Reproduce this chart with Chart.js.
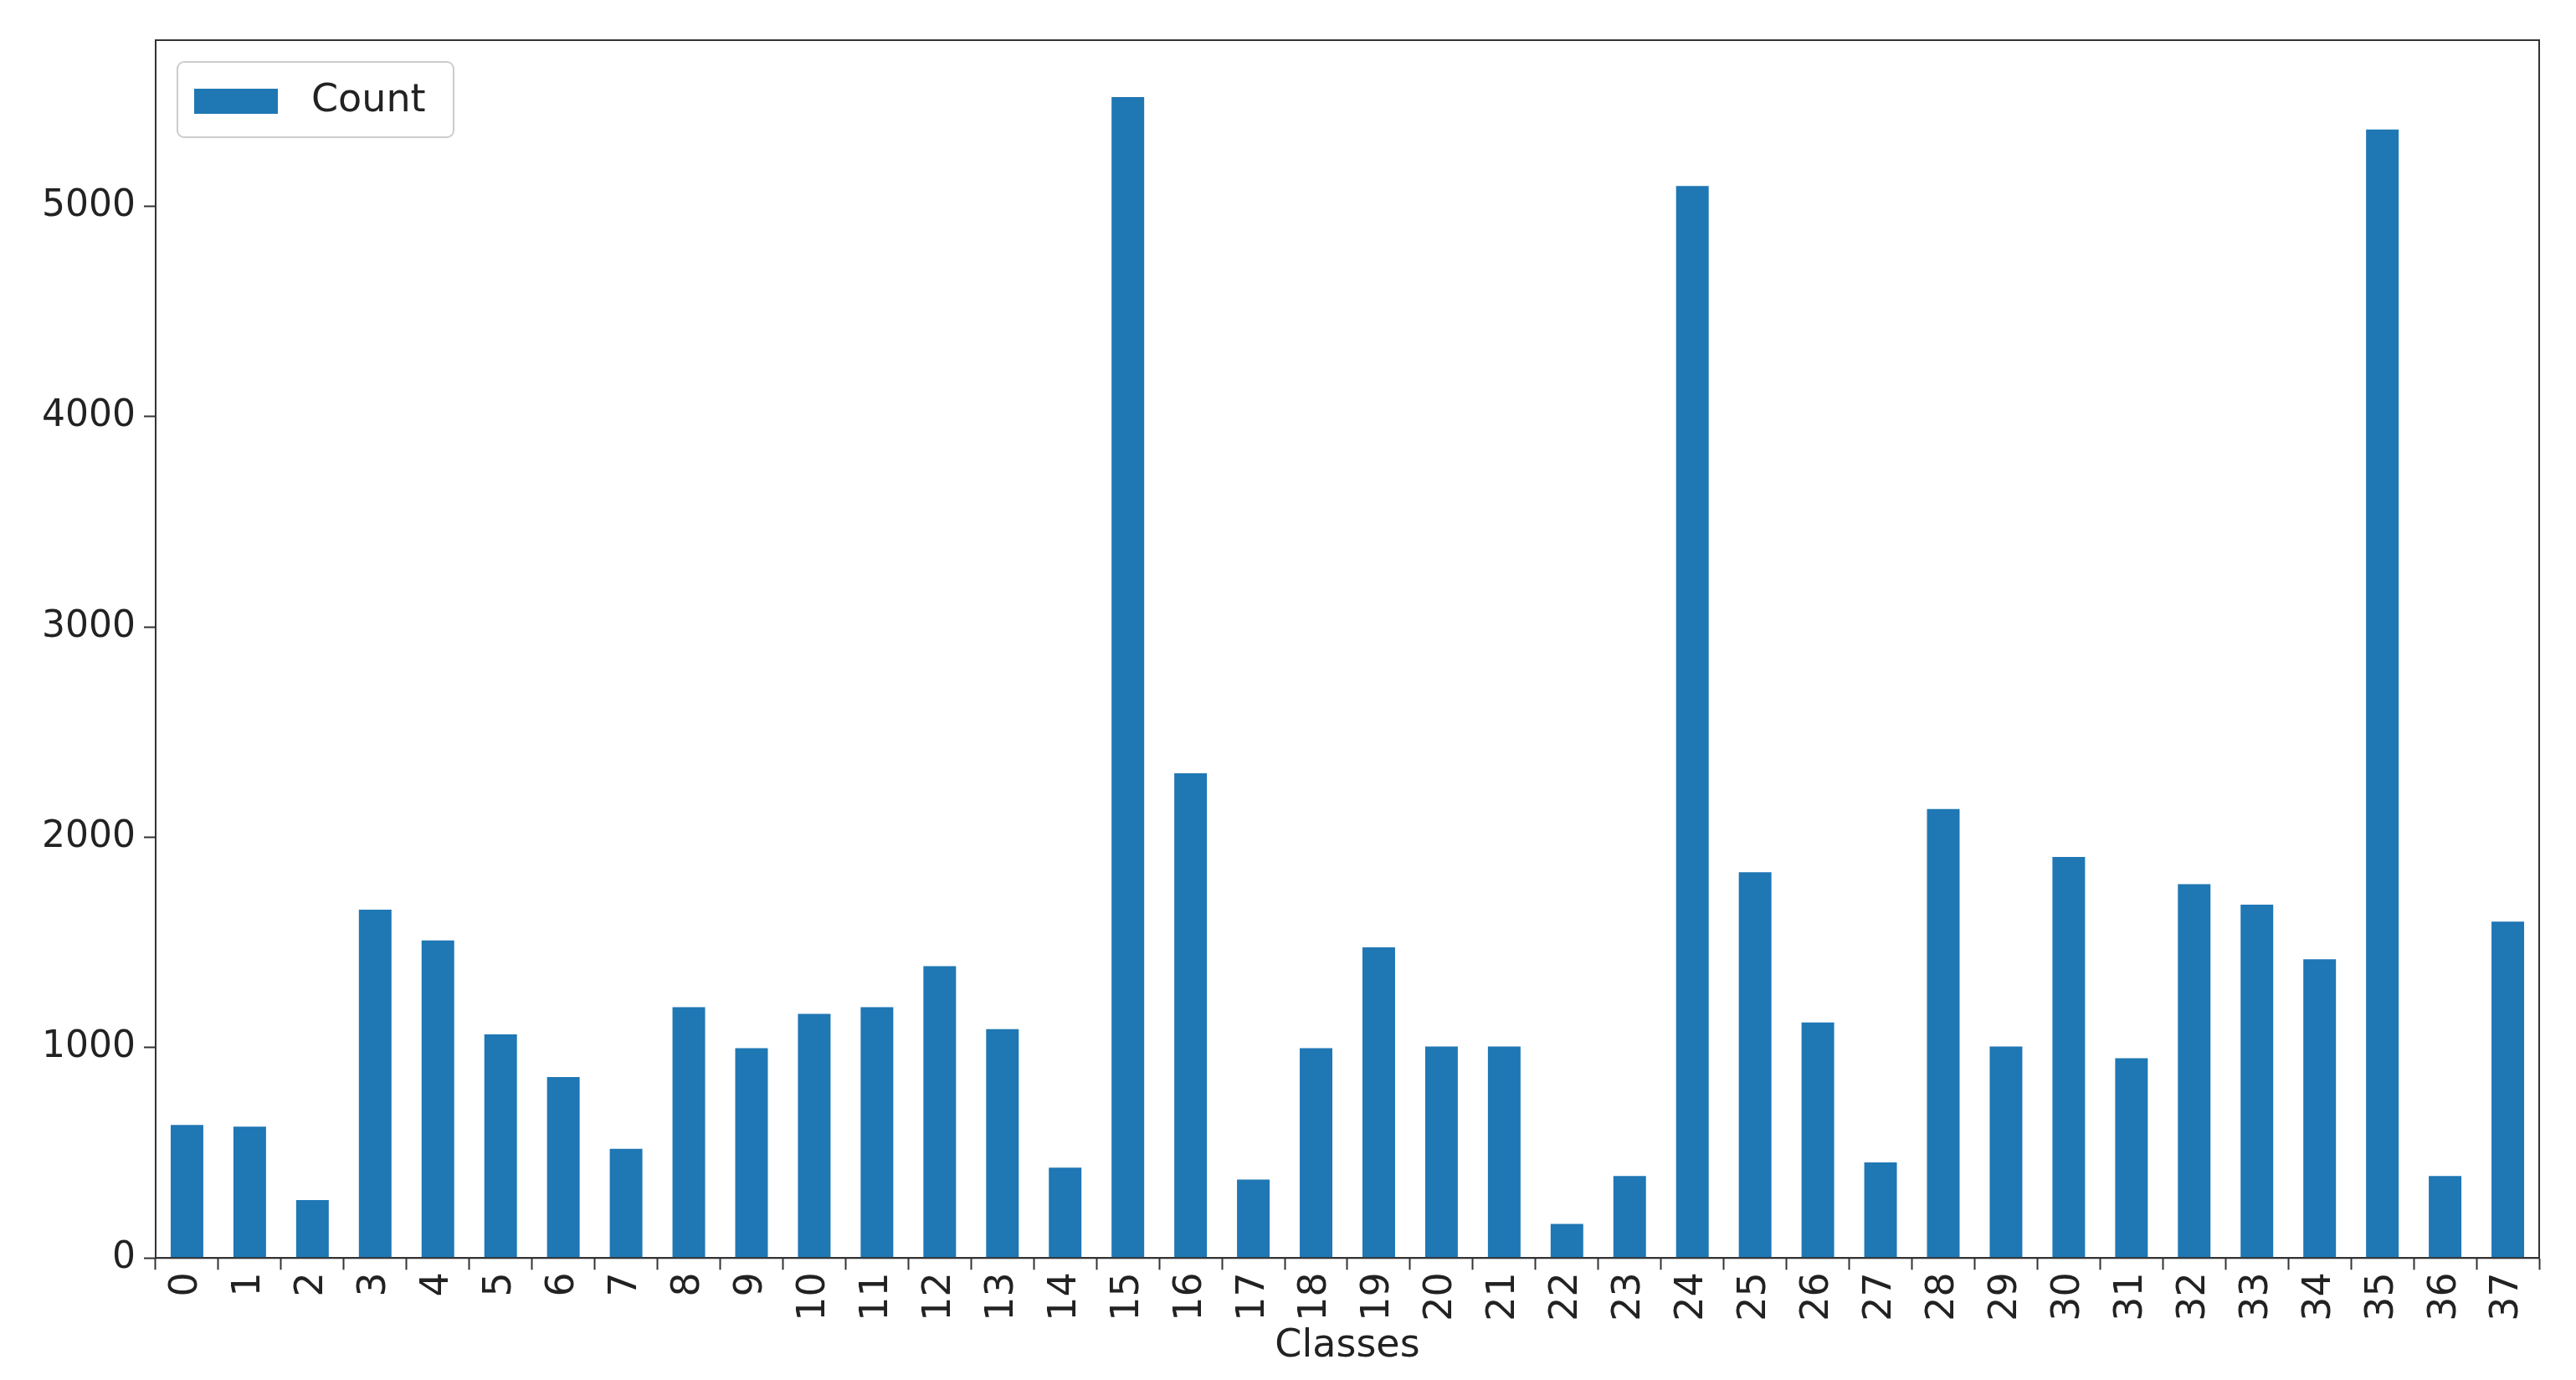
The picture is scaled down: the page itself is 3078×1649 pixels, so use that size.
<!DOCTYPE html>
<html><head><meta charset="utf-8">
<script src="https://cdn.jsdelivr.net/npm/chart.js@4/dist/chart.umd.min.js"></script>
<style>html,body{margin:0;padding:0;background:#fff}#w{width:3078px;height:1649px}</style>
</head><body><div id="w"><canvas id="c"></canvas></div>
<script>
const categories = Array.from({length:38},(_, i)=>String(i));
const counts = [633,625,276,1656,1510,1063,860,519,1193,998,1161,1193,1388,1088,430,5519,2305,373,998,1477,1006,1006,162,390,5097,1834,1120,455,2135,1006,1907,950,1778,1680,1420,5365,390,1599];
const yTicks = [0,1000,2000,3000,4000,5000];
const seriesName = 'Count';
const xTitle = 'Classes';
const blue = '#1f77b4';
const frame = {id:'frame', afterDraw(ch){const a=ch.chartArea,x=ch.ctx;x.save();x.strokeStyle='#333';x.lineWidth=2;x.strokeRect(a.left,a.top,a.right-a.left,a.bottom-a.top);
 const lx=a.left+26,ly=a.top+26;x.fillStyle='#fff';x.strokeStyle='#ccc';x.lineWidth=2;x.beginPath();x.roundRect(lx,ly,330,90,8);x.fill();x.stroke();
 x.fillStyle=blue;x.fillRect(lx+20,ly+32,100,30);x.fillStyle='#222';x.font='46px "DejaVu Sans"';x.textBaseline='middle';x.fillText(seriesName,lx+160,ly+47);x.restore();}};
new Chart(document.getElementById('c'),{type:'bar',
 data:{labels:categories,datasets:[{label:seriesName,data:counts,backgroundColor:blue,categoryPercentage:1,barPercentage:0.52}]},
 options:{responsive:true,maintainAspectRatio:false,animation:false,
  layout:{padding:{top:48,right:44,left:40,bottom:8}},
  plugins:{legend:{display:false},tooltip:{enabled:false}},
  scales:{
   x:{grid:{display:true,drawOnChartArea:false,tickLength:14,color:'#333',tickWidth:2},border:{color:'#333',width:2},
      ticks:{color:'#222',font:{size:46,family:'DejaVu Sans'},maxRotation:90,minRotation:90,autoSkip:false},
      title:{display:true,text:xTitle,color:'#222',font:{size:46,family:'DejaVu Sans'},padding:{top:0}}},
   y:{min:0,max:5790,afterBuildTicks(s){s.ticks=yTicks.map(v=>({value:v}));},
      grid:{display:true,drawOnChartArea:false,tickLength:14,color:'#333',tickWidth:2},border:{color:'#333',width:2},
      ticks:{color:'#222',font:{size:44,family:'DejaVu Sans'},padding:10,callback:v=>String(v)}}
  }},plugins:[frame]});
</script></body></html>
